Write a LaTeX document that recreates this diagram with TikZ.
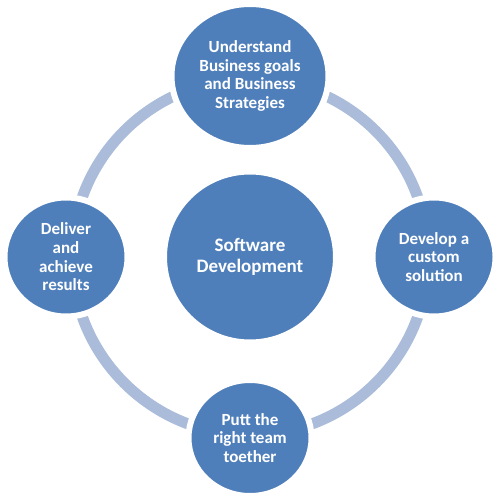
\documentclass[tikz,border=0pt]{standalone}
\usepackage{fontspec}
\setmainfont{Carlito}
\usetikzlibrary{shapes.geometric}
\definecolor{cblue}{HTML}{4F7FBB}
\definecolor{cring}{HTML}{AABCDA}
\begin{document}
\begin{tikzpicture}[x=1pt,y=-1pt,
  bubble/.style={ellipse,fill=cblue,draw=white,line width=6pt,inner sep=0pt,
    text=white,font=\bfseries\fontsize{17}{18.7}\selectfont,align=center},
  ring/.style={draw=cring,line width=11pt}]
\useasboundingbox[fill=white] (0,0) rectangle (500,500);
\draw[ring] (250,257) circle[radius=178];
\node[bubble,minimum width=157pt,minimum height=144pt] (top) at (250,76) {Understand\\Business goals\\and Business\\Strategies};
\node[bubble,minimum width=172pt,minimum height=171pt,font=\bfseries\fontsize{19}{21}\selectfont] (mid) at (250,257) {Software\\Development};
\node[bubble,minimum width=123pt,minimum height=119pt] (left) at (66,257) {Deliver\\and\\achieve\\results};
\node[bubble,minimum width=123pt,minimum height=119pt] (right) at (434,257) {Develop a\\custom\\solution};
\node[bubble,minimum width=123pt,minimum height=116pt] (bot) at (250,438) {Putt the\\right team\\toether};
\end{tikzpicture}
\end{document}
